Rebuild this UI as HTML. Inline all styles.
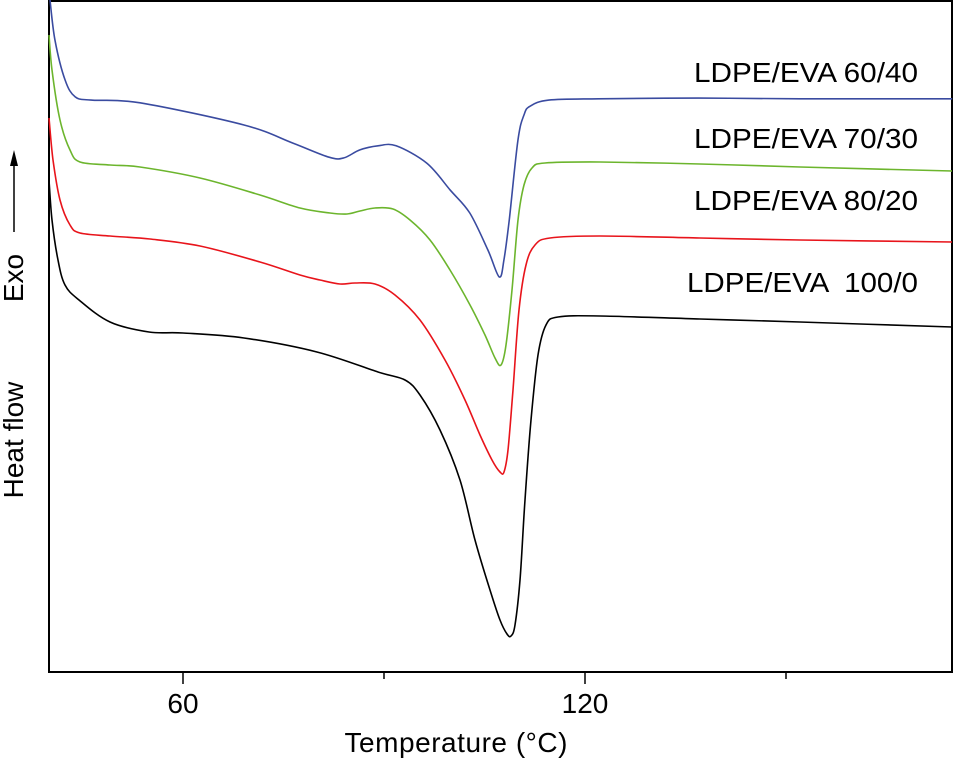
<!DOCTYPE html>
<html><head><meta charset="utf-8"><style>
html,body{margin:0;padding:0;background:#fff;}
svg{display:block;font-family:"Liberation Sans",sans-serif;}
</style></head><body>
<svg id="chart" width="954" height="763" viewBox="0 0 954 763">
<rect x="49" y="1" width="903" height="671" fill="none" stroke="#000" stroke-width="2"/>
<g id="ticks"></g>
<g id="series"></g>
<text x="456" y="752" font-size="28" text-anchor="middle" textLength="223">Temperature (°C)</text>
<text transform="translate(23,440) rotate(-90)" font-size="28" text-anchor="middle">Heat flow</text>
<text transform="translate(23,278) rotate(-90)" font-size="28" text-anchor="middle">Exo</text>
<line x1="14" y1="232" x2="14" y2="162" stroke="#000" stroke-width="1.5"/>
<polygon points="14,150 10,166 18,166" fill="#000"/>
</svg>
<script>
const xTicks=[60,90,120,150];
const xTickLabels=["60","","120",""];
const seriesNames=["LDPE/EVA 60/40","LDPE/EVA 70/30","LDPE/EVA 80/20","LDPE/EVA  100/0"];
const seriesColors=["#3a4ba0","#6cb52d","#e8141b","#000000"];
const labelY=[72,138,200,282];
// temperatures (°C) and heat flow (a.u.) per series
const tBlue=[40.15,40.9,42.4,43.9,46.3,53.6,69.1,76.4,81.8,84.0,86.4,89.1,91.8,96.4,99.9,102.8,105.5,107.2,107.9,108.7,110.0,110.9,111.8,114.6,122.0,136.9,152.1,174.8];
const vBlue=[100,94.0,88.1,85.6,85.1,84.7,81.4,78.7,76.6,76.5,77.7,78.3,78.3,75.7,71.7,68.3,62.8,58.8,61.3,67.3,79.2,82.9,84.2,85.1,85.3,85.4,85.3,85.3];
const tGreen=[40,40.45,41.64,43.13,44.63,49.1,53.58,62.54,71.49,77.46,81.94,84.48,86.42,88.66,91.34,93.88,96.87,99.85,102.84,105.07,106.57,107.46,108.21,109.1,110.0,110.9,112.09,114.03,122.24,137.16,152.09,174.78];
const vGreen=[94.79,89.58,82.14,77.68,75.89,75.45,75.15,73.51,70.98,69.05,68.3,68.15,68.6,69.05,68.9,67.26,64.29,59.82,54.61,50.15,46.73,45.68,48.66,56.85,67.26,72.47,75.0,75.74,75.89,75.6,75.15,74.55];
const tRed=[40,40.6,41.64,43.13,44.63,49.1,55.07,62.54,71.49,77.46,80.45,83.43,85.67,88.66,91.64,95.37,99.1,102.09,104.33,106.12,107.31,107.91,108.51,109.25,110.15,111.19,112.54,114.78,122.24,137.16,152.09,174.78];
const vRed=[82.44,76.19,70.24,66.52,65.33,64.88,64.43,63.39,61.01,59.08,58.33,57.74,57.89,57.74,56.1,52.38,46.43,40.48,35.27,31.55,29.76,29.76,33.04,41.96,53.87,60.57,63.54,64.58,64.88,64.58,64.29,63.99];
const tBlack=[40,40.45,41.34,42.39,44.48,49.1,54.93,60.0,69.1,79.99,89.1,93.13,95.37,98.36,101.34,103.58,105.82,107.31,108.36,108.96,109.55,110.3,111.04,111.94,112.99,114.18,115.97,122.24,137.16,152.09,174.78];
const vBlack=[73.21,67.26,61.31,57.59,55.36,52.08,50.6,50.45,49.7,47.62,44.64,43.45,41.22,36.01,28.57,19.64,12.2,7.74,5.65,5.36,7.0,13.69,25.6,37.5,47.17,51.64,52.83,52.98,52.53,52.08,51.34];

const NS="http://www.w3.org/2000/svg";
const X=t=>49+(t-40)*6.7;
const Y=v=>672-v*6.72;
const svg=document.getElementById('chart');
const tg=document.getElementById('ticks');
xTicks.forEach((t,i)=>{
  const l=document.createElementNS(NS,'line');
  l.setAttribute('x1',X(t));l.setAttribute('x2',X(t));
  l.setAttribute('y1',672);l.setAttribute('y2',xTickLabels[i]?684:679);
  l.setAttribute('stroke','#000');l.setAttribute('stroke-width','1.5');
  
  
  tg.appendChild(l);
  if(xTickLabels[i]){
    const tx=document.createElementNS(NS,'text');
    tx.setAttribute('x',X(t));tx.setAttribute('y',713);
    tx.setAttribute('font-size','28');tx.setAttribute('text-anchor','middle');
    tx.textContent=xTickLabels[i];
    
    
    tg.appendChild(tx);
  }
});
function smooth(pts){
  let d='M'+pts[0][0].toFixed(1)+','+pts[0][1].toFixed(1);
  for(let i=0;i<pts.length-1;i++){
    const p0=pts[Math.max(0,i-1)],p1=pts[i],p2=pts[i+1],p3=pts[Math.min(pts.length-1,i+2)];
    const c1=[p1[0]+(p2[0]-p0[0])/6,p1[1]+(p2[1]-p0[1])/6];
    const c2=[p2[0]-(p3[0]-p1[0])/6,p2[1]-(p3[1]-p1[1])/6];
    d+='C'+c1.map(n=>n.toFixed(1)).join(',')+' '+c2.map(n=>n.toFixed(1)).join(',')+' '+p2[0].toFixed(1)+','+p2[1].toFixed(1);
  }
  return d;
}
const data=[[tBlue,vBlue],[tGreen,vGreen],[tRed,vRed],[tBlack,vBlack]];
const sg=document.getElementById('series');
const slugs=['60-40','70-30','80-20','100-0'];
const labelLen=[224,224,224,231];
data.forEach(([ts,vs],i)=>{
  const p=document.createElementNS(NS,'path');
  p.setAttribute('d',smooth(ts.map((t,j)=>[X(t),Y(vs[j])])));
  p.setAttribute('fill','none');p.setAttribute('stroke',seriesColors[i]);p.setAttribute('stroke-width','1.6');
  
  
  sg.appendChild(p);
  const tx=document.createElementNS(NS,'text');
  tx.setAttribute('x',918-labelLen[i]);tx.setAttribute('y',labelY[i]+10);
  tx.setAttribute('font-size','28');
  tx.setAttribute('textLength',labelLen[i]);
  tx.setAttribute('lengthAdjust','spacingAndGlyphs');
  tx.style.whiteSpace='pre';
  tx.textContent=seriesNames[i];
  
  
  sg.appendChild(tx);
});
</script>
</body></html>
